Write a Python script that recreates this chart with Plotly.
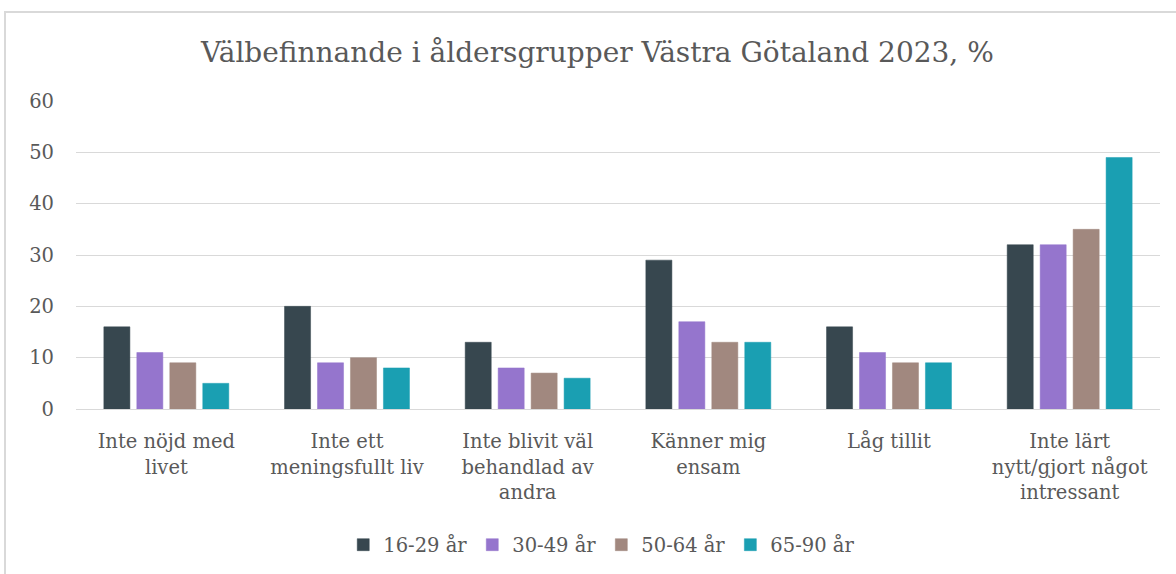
import plotly.graph_objects as go

categories = ["Inte nöjd med<br>livet", "Inte ett<br>meningsfullt liv", "Inte blivit väl<br>behandlad av<br>andra",
              "Känner mig<br>ensam", "Låg tillit", "Inte lärt<br>nytt/gjort något<br>intressant"]
series_names = ["16-29 år", "30-49 år", "50-64 år", "65-90 år"]
v_16_29 = [16, 20, 13, 29, 16, 32]
v_30_49 = [11, 9, 8, 17, 11, 32]
v_50_64 = [9, 10, 7, 13, 9, 35]
v_65_90 = [5, 8, 6, 13, 9, 49]
colors = ["#37474F", "#9575CD", "#A1887F", "#1A9FB2"]
y_ticks = [0, 10, 20, 30, 40, 50, 60]

FONT = "DejaVu Serif"
TXT = "#595959"
fig = go.Figure()
for name, vals, col in zip(series_names, [v_16_29, v_30_49, v_50_64, v_65_90], colors):
    fig.add_trace(go.Bar(x=categories, y=vals, name=name, marker=dict(color=col, line=dict(color=col, width=0.5))))

fig.update_layout(
    width=1176, height=574,
    margin=dict(l=76, r=16, t=101, b=165, autoexpand=False),
    paper_bgcolor="white", plot_bgcolor="white",
    barmode="group", bargap=0.27, bargroupgap=0.21,
    font=dict(family=FONT, color=TXT),
    title=dict(text="Välbefinnande i åldersgrupper Västra Götaland 2023, %", x=0.508, xanchor="center",
               y=1 - 52/574, yanchor="middle", font=dict(size=28, color=TXT, family=FONT)),
    legend=dict(orientation="h", x=0.485, xanchor="center", y=(409-545)/308, yanchor="middle",
                font=dict(size=19.5, color=TXT, family=FONT), traceorder="normal"),
    showlegend=True,
)
fig.update_yaxes(range=[0, 60], tickvals=y_ticks, showgrid=True, gridcolor="#D9D9D9", gridwidth=1,
                 zeroline=False, showline=False, tickfont=dict(size=19.5, color=TXT), ticklabelstandoff=21,
                 automargin=False)
fig.update_xaxes(showline=True, linecolor="#D9D9D9", linewidth=1, tickfont=dict(size=19.5, color=TXT),
                 ticklabelstandoff=15, automargin=False)
fig.add_shape(type="rect", xref="paper", yref="paper",
              x0=(5-76)/1084, x1=(1190-76)/1084, y0=(409-600)/308, y1=(409-12)/308,
              line=dict(color="#D9D9D9", width=2), fillcolor="rgba(0,0,0,0)", layer="below")
fig.write_html("out.html", config={"displayModeBar": False},
               post_script="document.body.style.margin='0';document.body.style.padding='0';")
